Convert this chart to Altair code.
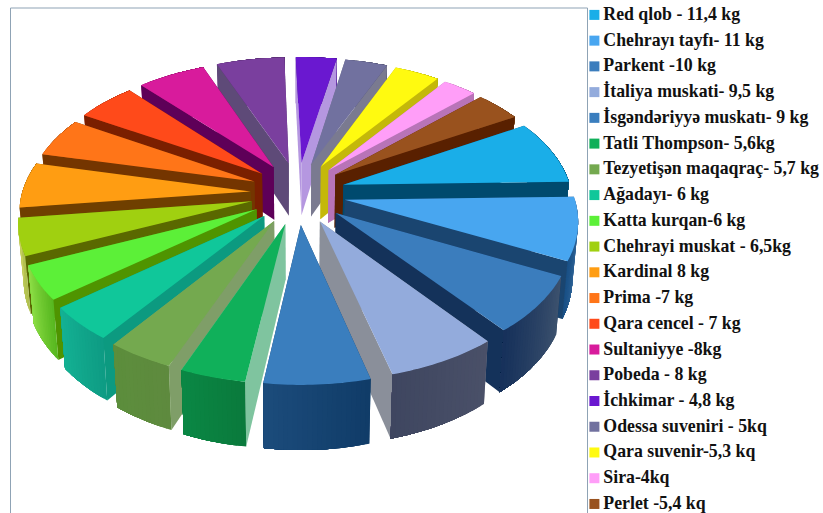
import math
import altair as alt

# Grape varieties: legend label, yield, face colours
labels = ["Red qlob - 11,4 kg", "Chehrayı tayfı- 11  kg", "Parkent -10 kg", "İtaliya muskati- 9,5 kg",
          "İsgəndəriyyə muskatı- 9 kg", "Tatli Thompson- 5,6kg", "Tezyetişən maqaqraç- 5,7 kg", "Ağadayı- 6 kg",
          "Katta kurqan-6 kg", "Chehrayi muskat - 6,5kg", "Kardinal 8 kg", "Prima -7 kg", "Qara cencel - 7 kg",
          "Sultaniyye -8kg", "Pobeda - 8 kg", "İchkimar - 4,8 kg", "Odessa suveniri - 5kq", "Qara suvenir-5,3 kq",
          "Sira-4kq", "Perlet -5,4 kq"]
values = [11.4, 11, 10, 9.5, 9, 5.6, 5.7, 6, 6, 6.5, 8, 7, 7, 8, 8, 4.8, 5, 5.3, 4, 5.4]
top_colors = ["#1AAEE8", "#48A6F0", "#3B7DBD", "#93ABDC", "#3A7EBE", "#10B05A", "#74A94F", "#10C79A", "#5CF038",
              "#A0D010", "#FF9D12", "#FF7518", "#FF4A1A", "#D81B9C", "#7A3F9E", "#6A18D0", "#71719F", "#FFFA10",
              "#FF9EF8", "#99521E"]
radial_colors = ["#004A6E", "#1A4570", "#14325A", "#8A8F9A", "#14426F", "#7FC49F", "#7F9E68", "#0C9A80", "#4F9400",
                 "#5A6800", "#6F3F00", "#743500", "#7A1F00", "#5E0058", "#5E4A78", "#B597E0", "#7A7A90", "#C4B80A",
                 "#B874B8", "#592000"]
# Rim shading runs from the clockwise start of a slice to its end
rim_start_colors = ["#00577F", "#4F7FAE", "#3D526E", "#4A5068", "#103C68", "#0A7A3C", "#5E8A3E", "#0E9C84", "#58B820",
                    "#B0C050", "#B8720C", "#B8540F", "#B83210", "#9A126E", "#572C70", "#4A1094", "#505070", "#B8B40A",
                    "#B870B0", "#6E3A14"]
rim_end_colors = ["#00577F", "#174E84", "#15305A", "#3E4660", "#1C4C7C", "#0A8845", "#5C8E3C", "#14B294", "#90E048",
                  "#C8D060", "#B8720C", "#B8540F", "#B83210", "#9A126E", "#572C70", "#4A1094", "#505070", "#B8B40A",
                  "#B870B0", "#6E3A14"]

START_ANGLE = 60.0
EXPLODE_X, EXPLODE_Y = 0.172, 0.195
RADIUS_X, RADIUS_Y = 0.828, 0.805
CX, CY, SX, SY, PERSP, DEPTH, TAPER = 298.0, 193.0, 276.0, 159.2, 0.1708, 54.0, 0.02


def project(x, y, z=0.0):
    """Perspective view of a point on the pie; z runs from 0 (top) to 1 (base)."""
    w = 1.0 / (1.0 - PERSP * y)
    return [CX + SX * x * w * (1 - TAPER * z), CY + SY * y * w + DEPTH * w * z]


def feature(ring, **props):
    ring = ring + [ring[0]]
    return {"type": "Feature", "properties": props, "geometry": {"type": "Polygon", "coordinates": [ring]}}


def blend(c0, c1, f):
    a = [int(c0[i:i + 2], 16) for i in (1, 3, 5)]
    b = [int(c1[i:i + 2], 16) for i in (1, 3, 5)]
    return "#" + "".join(f"{round(p + (q - p) * f):02X}" for p, q in zip(a, b))


total = sum(values)
walls, tops = [], []
angle = START_ANGLE
for label, value, radial, rim0, rim1 in zip(labels, values, radial_colors, rim_start_colors, rim_end_colors):
    sweep = value / total * 360.0
    mid = math.radians(angle + sweep / 2)
    ax, ay = EXPLODE_X * math.sin(mid), -EXPLODE_Y * math.cos(mid)
    steps = max(int(sweep), 2)
    rim = []
    for k in range(steps + 1):
        t = math.radians(angle + sweep * k / steps)
        rim.append((ax + RADIUS_X * math.sin(t), ay - RADIUS_Y * math.cos(t)))
    tops.append(feature([project(ax, ay)] + [project(*p) for p in rim], name=label))

    apex_top, apex_base = project(ax, ay), project(ax, ay, 1)
    # Each band reaches to the end of the rim and the next one paints over it, leaving no seams
    bands = [
        feature([project(*p) for p in rim[k:]] + [project(*p, 1) for p in reversed(rim[k:])],
                fill=blend(rim0, rim1, k / steps))
        for k in range(steps)
    ]
    faces = [
        (ay + rim[0][1], [feature([apex_top, project(*rim[0]), project(*rim[0], 1), apex_base], fill=radial)]),
        (ay + rim[-1][1], [feature([apex_top, project(*rim[-1]), project(*rim[-1], 1), apex_base], fill=radial)]),
        (sum(p[1] for p in rim) * 2 / len(rim), bands),
    ]
    wedge_depth = sum(p[1] for p in rim) / len(rim) + ay
    ordered = []
    for _, shapes in sorted(faces, key=lambda f: f[0]):
        ordered.extend(shapes)
    walls.append((wedge_depth, ordered))
    angle += sweep

walls.sort(key=lambda w: w[0])
wall_features = [shape for _, shapes in walls for shape in shapes]

frame = alt.Chart(alt.Data(values=[{"a": 1}])).mark_rect(
    fill="white", stroke="#8FA3B5", strokeWidth=1
).encode(x=alt.value(10.5), x2=alt.value(587.5), y=alt.value(8), y2=alt.value(560))

wall_layer = alt.Chart(alt.Data(values=wall_features)).mark_geoshape(strokeWidth=0).encode(
    fill=alt.Fill("properties.fill:N", scale=None),
).project(type="identity", scale=1, translate=[0, 0])

top_layer = alt.Chart(alt.Data(values=tops)).mark_geoshape(strokeWidth=0).encode(
    fill=alt.Fill(
        "properties.name:N",
        scale=alt.Scale(domain=labels, range=top_colors),
        sort=labels,
        legend=alt.Legend(
            title=None, orient="none", legendX=585.5, legendY=6, symbolType="square", symbolSize=100,
            symbolStrokeWidth=0, labelFont="Liberation Serif", labelFontWeight="bold", labelFontSize=17.8,
            labelColor="#111111", labelLimit=300, labelOffset=0, rowPadding=6.74, values=labels, padding=0,
        ),
    )
).project(type="identity", scale=1, translate=[0, 0])

chart = alt.layer(frame, wall_layer, top_layer).properties(
    width=823, height=513, padding=0, autosize=alt.AutoSizeParams(type="none"), background="white"
).configure_view(stroke=None)

chart.save("out.html", embed_options={"renderer": "svg", "actions": False})
